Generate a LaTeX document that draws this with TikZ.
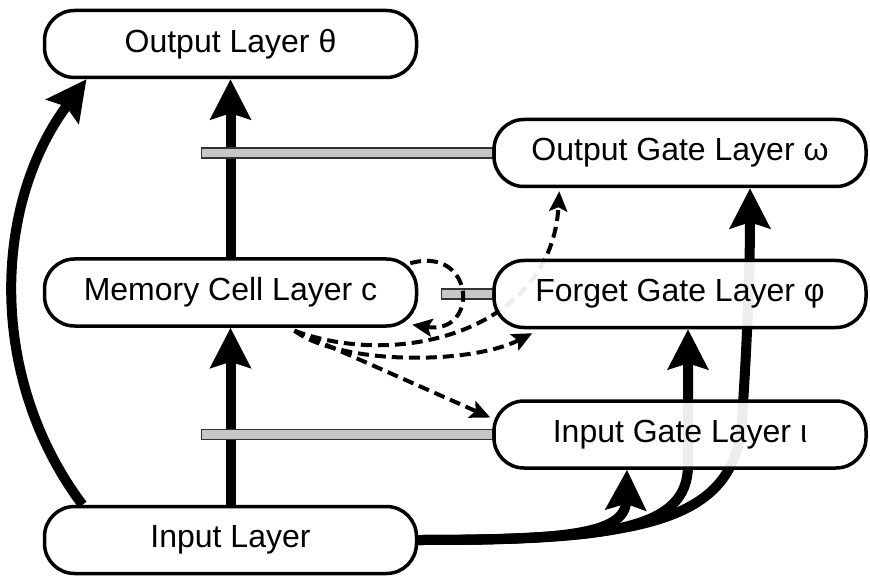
\documentclass[tikz,border=0pt]{standalone}
\usepackage{fontspec}
\setmainfont{Liberation Sans}
\usetikzlibrary{arrows.meta,backgrounds}

\begin{document}
\begin{tikzpicture}[x=1pt,y=-1pt,
  layer/.style={draw,line width=3.5pt,rounded corners=30pt,fill=white,fill opacity=0.93,text opacity=1,
    minimum width=372pt,minimum height=67pt,font=\fontsize{32}{38}\selectfont},
  link/.style={line width=10pt,-{Stealth[length=40pt,width=40pt,inset=6pt]}},
  peep/.style={line width=4pt,dash pattern=on 11pt off 6pt,-{Stealth[length=20pt,width=18pt,inset=4pt]}},
  gatebar/.style={draw=black!80,fill=black!22,line width=1.2pt}]

  \useasboundingbox (0,0) rectangle (870,577);

  % the layers
  \node[layer] (out) at (230.5,44) {Output Layer θ};
  \node[layer] (mem) at (230.5,292.5) {Memory Cell Layer c};
  \node[layer] (inp) at (230.5,540) {Input Layer};
  \node[layer] (og) at (680,153) {Output Gate Layer ω};
  \node[layer] (fg) at (680,294) {Forget Gate Layer φ};
  \node[layer] (ig) at (680,434.5) {Input Gate Layer ι};

  \begin{scope}[on background layer]
    % direct connections
    \draw[link] (inp.north) -- (mem.south);
    \draw[link] (mem.north) -- (out.south);
    \draw[link] ([xshift=-148pt]inp.north) .. controls (-12,379) and (-8,206) .. ([xshift=-144pt]out.south);

    % input layer to the gates
    \draw[link] (inp.east) .. controls (560,540) and (625,535) .. ([xshift=-53pt]ig.south);
    \draw[link] (inp.east) .. controls (610,540) and (688,530) .. (688,465) -- ([xshift=8pt]fg.south);
    \draw[link] (inp.east) .. controls (650,540) and (735,520) .. (742,420)
      .. controls (746,360) and (750,280) .. ([xshift=70pt]og.south);

    % gate bars
    \draw[gatebar] ([yshift=5pt]og.west) rectangle ([xshift=-291pt,yshift=-5pt]og.west);
    \draw[gatebar] ([yshift=5pt]ig.west) rectangle ([xshift=-291pt,yshift=-5pt]ig.west);
    \draw[gatebar] ([yshift=5pt]fg.west) rectangle ([xshift=-51pt,yshift=-5pt]fg.west);

    % peepholes from the cell
    \draw[peep] ([xshift=64pt,yshift=-3pt]mem.south) -- ([xshift=-2pt,yshift=17pt]ig.west);
    \draw[peep] ([xshift=64pt,yshift=-3pt]mem.south) .. controls (340,365) and (470,365) .. ([xshift=40pt,yshift=-4pt]fg.south west);
    \draw[peep] ([xshift=64pt,yshift=-3pt]mem.south) .. controls (400,370) and (552,330) .. ([xshift=67pt,yshift=-3pt]og.south west);
    \draw[peep] ([xshift=-8pt,yshift=-6pt]mem.north east) .. controls (475,245) and (480,335) .. ([xshift=-6pt,yshift=3pt]mem.south east);
  \end{scope}
\end{tikzpicture}
\end{document}
